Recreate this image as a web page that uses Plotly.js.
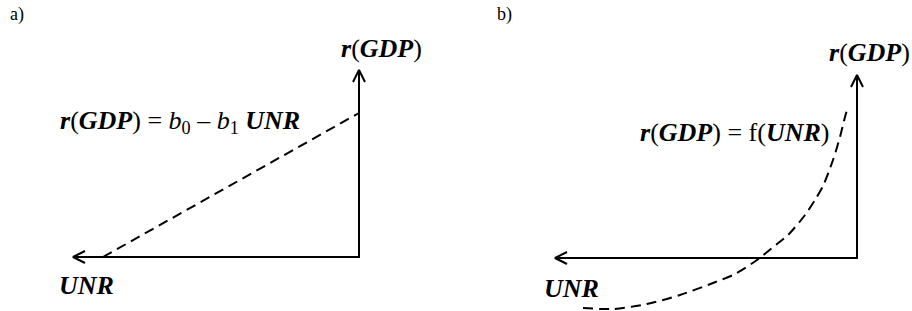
<!DOCTYPE html>
<html>
<head>
<meta charset="utf-8">
<script src="https://cdn.plot.ly/plotly-3.0.1.min.js"></script>
<style>html,body{margin:0;padding:0;background:#fff;}#chart{width:912px;height:311px;}</style>
</head>
<body>
<div id="chart"></div>
<script>
// Panel a: linear relation (UNR grows to the left from the corner, r(GDP) upward)
const axisA_UNR = 286;      // length of UNR axis
const axisA_GDP = 187;      // length of r(GDP) axis
const lineA_UNR = [256, 0];
const lineA_GDP = [0, 144];

// Panel b: non-linear relation
const axisB_UNR = 302;
const axisB_GDP = 183;
const curveB_UNR = [274, 244, 210, 177, 144, 122, 100, 85, 69, 52, 42, 34, 24, 17, 12, 9];
const curveB_GDP = [-50, -51, -46, -37, -25, -16, -2, 10, 23, 43, 58, 72, 98, 121, 141, 151];

const labels = {
  panelA: 'a)',
  panelB: 'b)',
  yTitle: '<b><i>r</i></b>(<b><i>GDP</i></b>)',
  xTitle: '<b><i>UNR</i></b>',
  eqA: '<b><i>r</i></b>(<b><i>GDP</i></b>) = <i>b</i><sub>0</sub> – <i>b</i><sub>1</sub> <b><i>UNR</i></b>',
  eqB: '<b><i>r</i></b>(<b><i>GDP</i></b>) = f(<b><i>UNR</i></b>)'
};

const solid = {color: '#000', width: 2};
const dashed = {color: '#000', width: 2, dash: '10px,6px'};
const AH = 12, AW = 6; // arrowhead length / half-width

function axesTraces(L, H, xa, ya) {
  return [
    {x: [L, 0, 0], y: [0, 0, H], mode: 'lines', line: solid, xaxis: xa, yaxis: ya, hoverinfo: 'skip'},
    {x: [L - AH, L, L - AH], y: [AW, 0, -AW], mode: 'lines', line: solid, xaxis: xa, yaxis: ya, hoverinfo: 'skip'},
    {x: [AW, 0, -AW], y: [H - AH, H, H - AH], mode: 'lines', line: solid, xaxis: xa, yaxis: ya, hoverinfo: 'skip'}
  ];
}

const traces = [
  ...axesTraces(axisA_UNR, axisA_GDP, 'x', 'y'),
  {x: lineA_UNR, y: lineA_GDP, mode: 'lines', line: dashed, xaxis: 'x', yaxis: 'y', hoverinfo: 'skip'},
  ...axesTraces(axisB_UNR, axisB_GDP, 'x2', 'y2'),
  {x: curveB_UNR, y: curveB_GDP, mode: 'lines', line: Object.assign({shape: 'spline', smoothing: 0.8}, dashed), xaxis: 'x2', yaxis: 'y2', hoverinfo: 'skip'}
];

const hidden = {showgrid: false, zeroline: false, showline: false, showticklabels: false, ticks: '', fixedrange: true};
const font = {family: '"Liberation Serif", "Times New Roman", serif', color: '#000', size: 26};
const small = {family: '"Liberation Serif", "Times New Roman", serif', color: '#000', size: 18};

function ann(text, px, py, f, xanchor) {
  return {text: text, xref: 'paper', yref: 'paper', x: px / 912, y: 1 - py / 311,
          xanchor: xanchor || 'center', yanchor: 'middle', showarrow: false, font: f};
}

const layout = {
  width: 912, height: 311,
  margin: {l: 0, r: 0, t: 0, b: 0},
  paper_bgcolor: '#fff', plot_bgcolor: '#fff',
  showlegend: false,
  xaxis: Object.assign({domain: [0, 0.5], range: [359, -97]}, hidden),
  yaxis: Object.assign({domain: [0, 1], range: [-54, 257]}, hidden),
  xaxis2: Object.assign({domain: [0.5, 1], range: [401, -55], anchor: 'y2'}, hidden),
  yaxis2: Object.assign({domain: [0, 1], range: [-53, 258], anchor: 'x2'}, hidden),
  annotations: [
    ann(labels.panelA, 8, 15, small, 'left'),
    ann(labels.yTitle, 381, 49, font),
    ann(labels.eqA, 58, 122, font, 'left'),
    ann(labels.xTitle, 86, 285, font),
    ann(labels.panelB, 495, 15, small, 'left'),
    ann(labels.yTitle, 869, 52, font),
    ann(labels.eqB, 734, 132, font),
    ann(labels.xTitle, 571, 288, font)
  ]
};

Plotly.newPlot('chart', traces, layout, {displayModeBar: false, staticPlot: true});
</script>
</body>
</html>
